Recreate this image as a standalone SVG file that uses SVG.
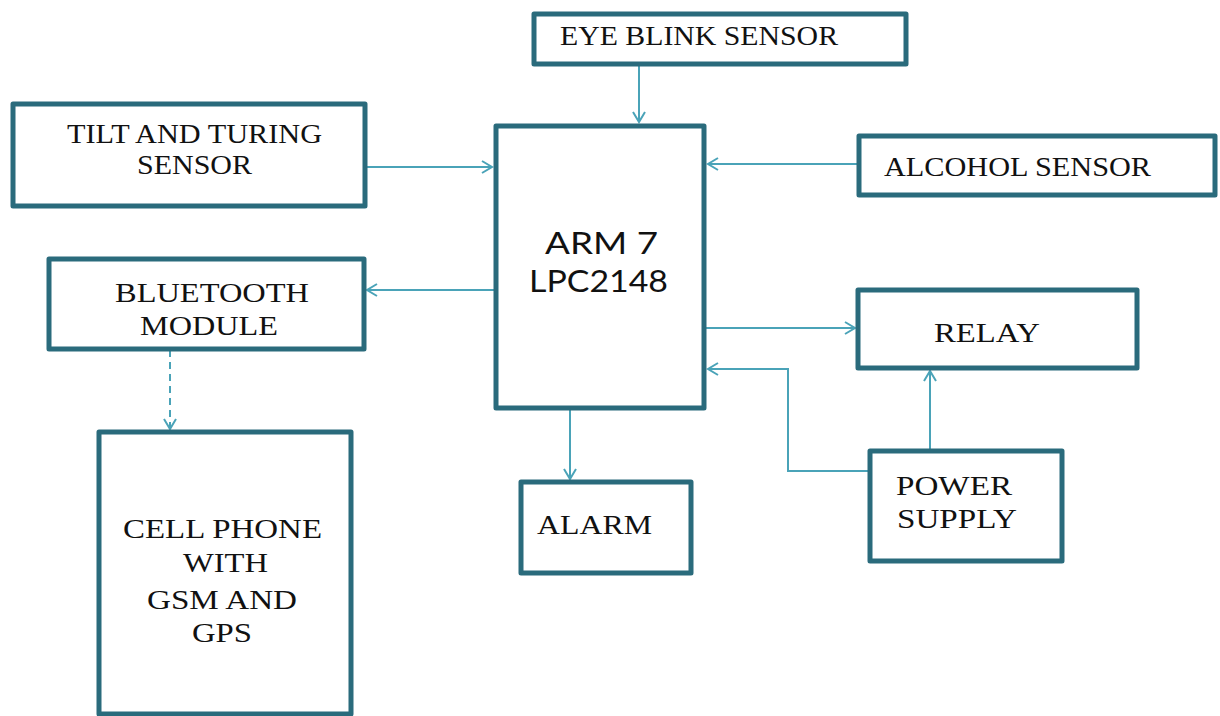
<svg xmlns="http://www.w3.org/2000/svg" width="1220" height="716" viewBox="0 0 1220 716">
<defs>
<style>
.box{fill:#fff;stroke:#2a6b7c;stroke-width:5;stroke-linejoin:round}
.t{font-family:"Liberation Serif","Times New Roman",serif;font-size:28px;fill:#111}
.m{font-family:Lato,"DejaVu Sans",sans-serif;font-size:31px;fill:#111}
.c{fill:none;stroke:#4aa3b8;stroke-width:2}
.d{stroke-dasharray:7,5}
</style>
<marker id="a" markerWidth="14" markerHeight="14" refX="12" refY="7" orient="auto" markerUnits="userSpaceOnUse">
<path d="M2,1 L12,7 L2,13" fill="none" stroke="#4aa3b8" stroke-width="2"/>
</marker>
</defs>
<rect width="1220" height="716" fill="#fff"/>
<g id="connectors">
<path class="c" d="M639,64 V122" marker-end="url(#a)"/>
<path class="c" d="M367,167 H492" marker-end="url(#a)"/>
<path class="c" d="M857,164 H708" marker-end="url(#a)"/>
<path class="c" d="M494,290 H367" marker-end="url(#a)"/>
<path class="c d" d="M170,350 V429" marker-end="url(#a)"/>
<path class="c" d="M706,328 H855" marker-end="url(#a)"/>
<path class="c" d="M869,471 H788 V369 H708" marker-end="url(#a)"/>
<path class="c" d="M930,450 V371" marker-end="url(#a)"/>
<path class="c" d="M570,409 V479" marker-end="url(#a)"/>
</g>
<g id="eye"><rect class="box" x="534" y="14" width="372" height="50"/><text class="t" x="560" y="45" textLength="278" lengthAdjust="spacingAndGlyphs">EYE BLINK SENSOR</text></g>
<g id="tilt"><rect class="box" x="13" y="104" width="352" height="102"/><text class="t" x="67" y="143" textLength="255" lengthAdjust="spacingAndGlyphs">TILT AND TURING</text><text class="t" x="137" y="174" textLength="115" lengthAdjust="spacingAndGlyphs">SENSOR</text></g>
<g id="arm"><rect class="box" x="496" y="126" width="208" height="282"/><text class="m" x="545" y="254" textLength="113" lengthAdjust="spacingAndGlyphs">ARM 7</text><text class="m" x="529" y="292" textLength="139" lengthAdjust="spacingAndGlyphs">LPC2148</text></g>
<g id="alcohol"><rect class="box" x="859" y="136" width="356" height="59"/><text class="t" x="884" y="176" textLength="267" lengthAdjust="spacingAndGlyphs">ALCOHOL SENSOR</text></g>
<g id="bluetooth"><rect class="box" x="49" y="259" width="315" height="90"/><text class="t" x="115" y="302" textLength="194" lengthAdjust="spacingAndGlyphs">BLUETOOTH</text><text class="t" x="140" y="335" textLength="138" lengthAdjust="spacingAndGlyphs">MODULE</text></g>
<g id="relay"><rect class="box" x="858" y="290" width="279" height="78"/><text class="t" x="934" y="342" textLength="106" lengthAdjust="spacingAndGlyphs">RELAY</text></g>
<g id="alarm"><rect class="box" x="521" y="482" width="170" height="91"/><text class="t" x="537" y="534" textLength="115" lengthAdjust="spacingAndGlyphs">ALARM</text></g>
<g id="power"><rect class="box" x="870" y="451" width="192" height="110"/><text class="t" x="896" y="495" textLength="116" lengthAdjust="spacingAndGlyphs">POWER</text><text class="t" x="897" y="528" textLength="120" lengthAdjust="spacingAndGlyphs">SUPPLY</text></g>
<g id="cell"><rect class="box" x="99" y="432" width="252" height="282"/><text class="t" x="123" y="538" textLength="199" lengthAdjust="spacingAndGlyphs">CELL PHONE</text><text class="t" x="183" y="572" textLength="85" lengthAdjust="spacingAndGlyphs">WITH</text><text class="t" x="147" y="609" textLength="150" lengthAdjust="spacingAndGlyphs">GSM AND</text><text class="t" x="192" y="642" textLength="60" lengthAdjust="spacingAndGlyphs">GPS</text></g>
</svg>
